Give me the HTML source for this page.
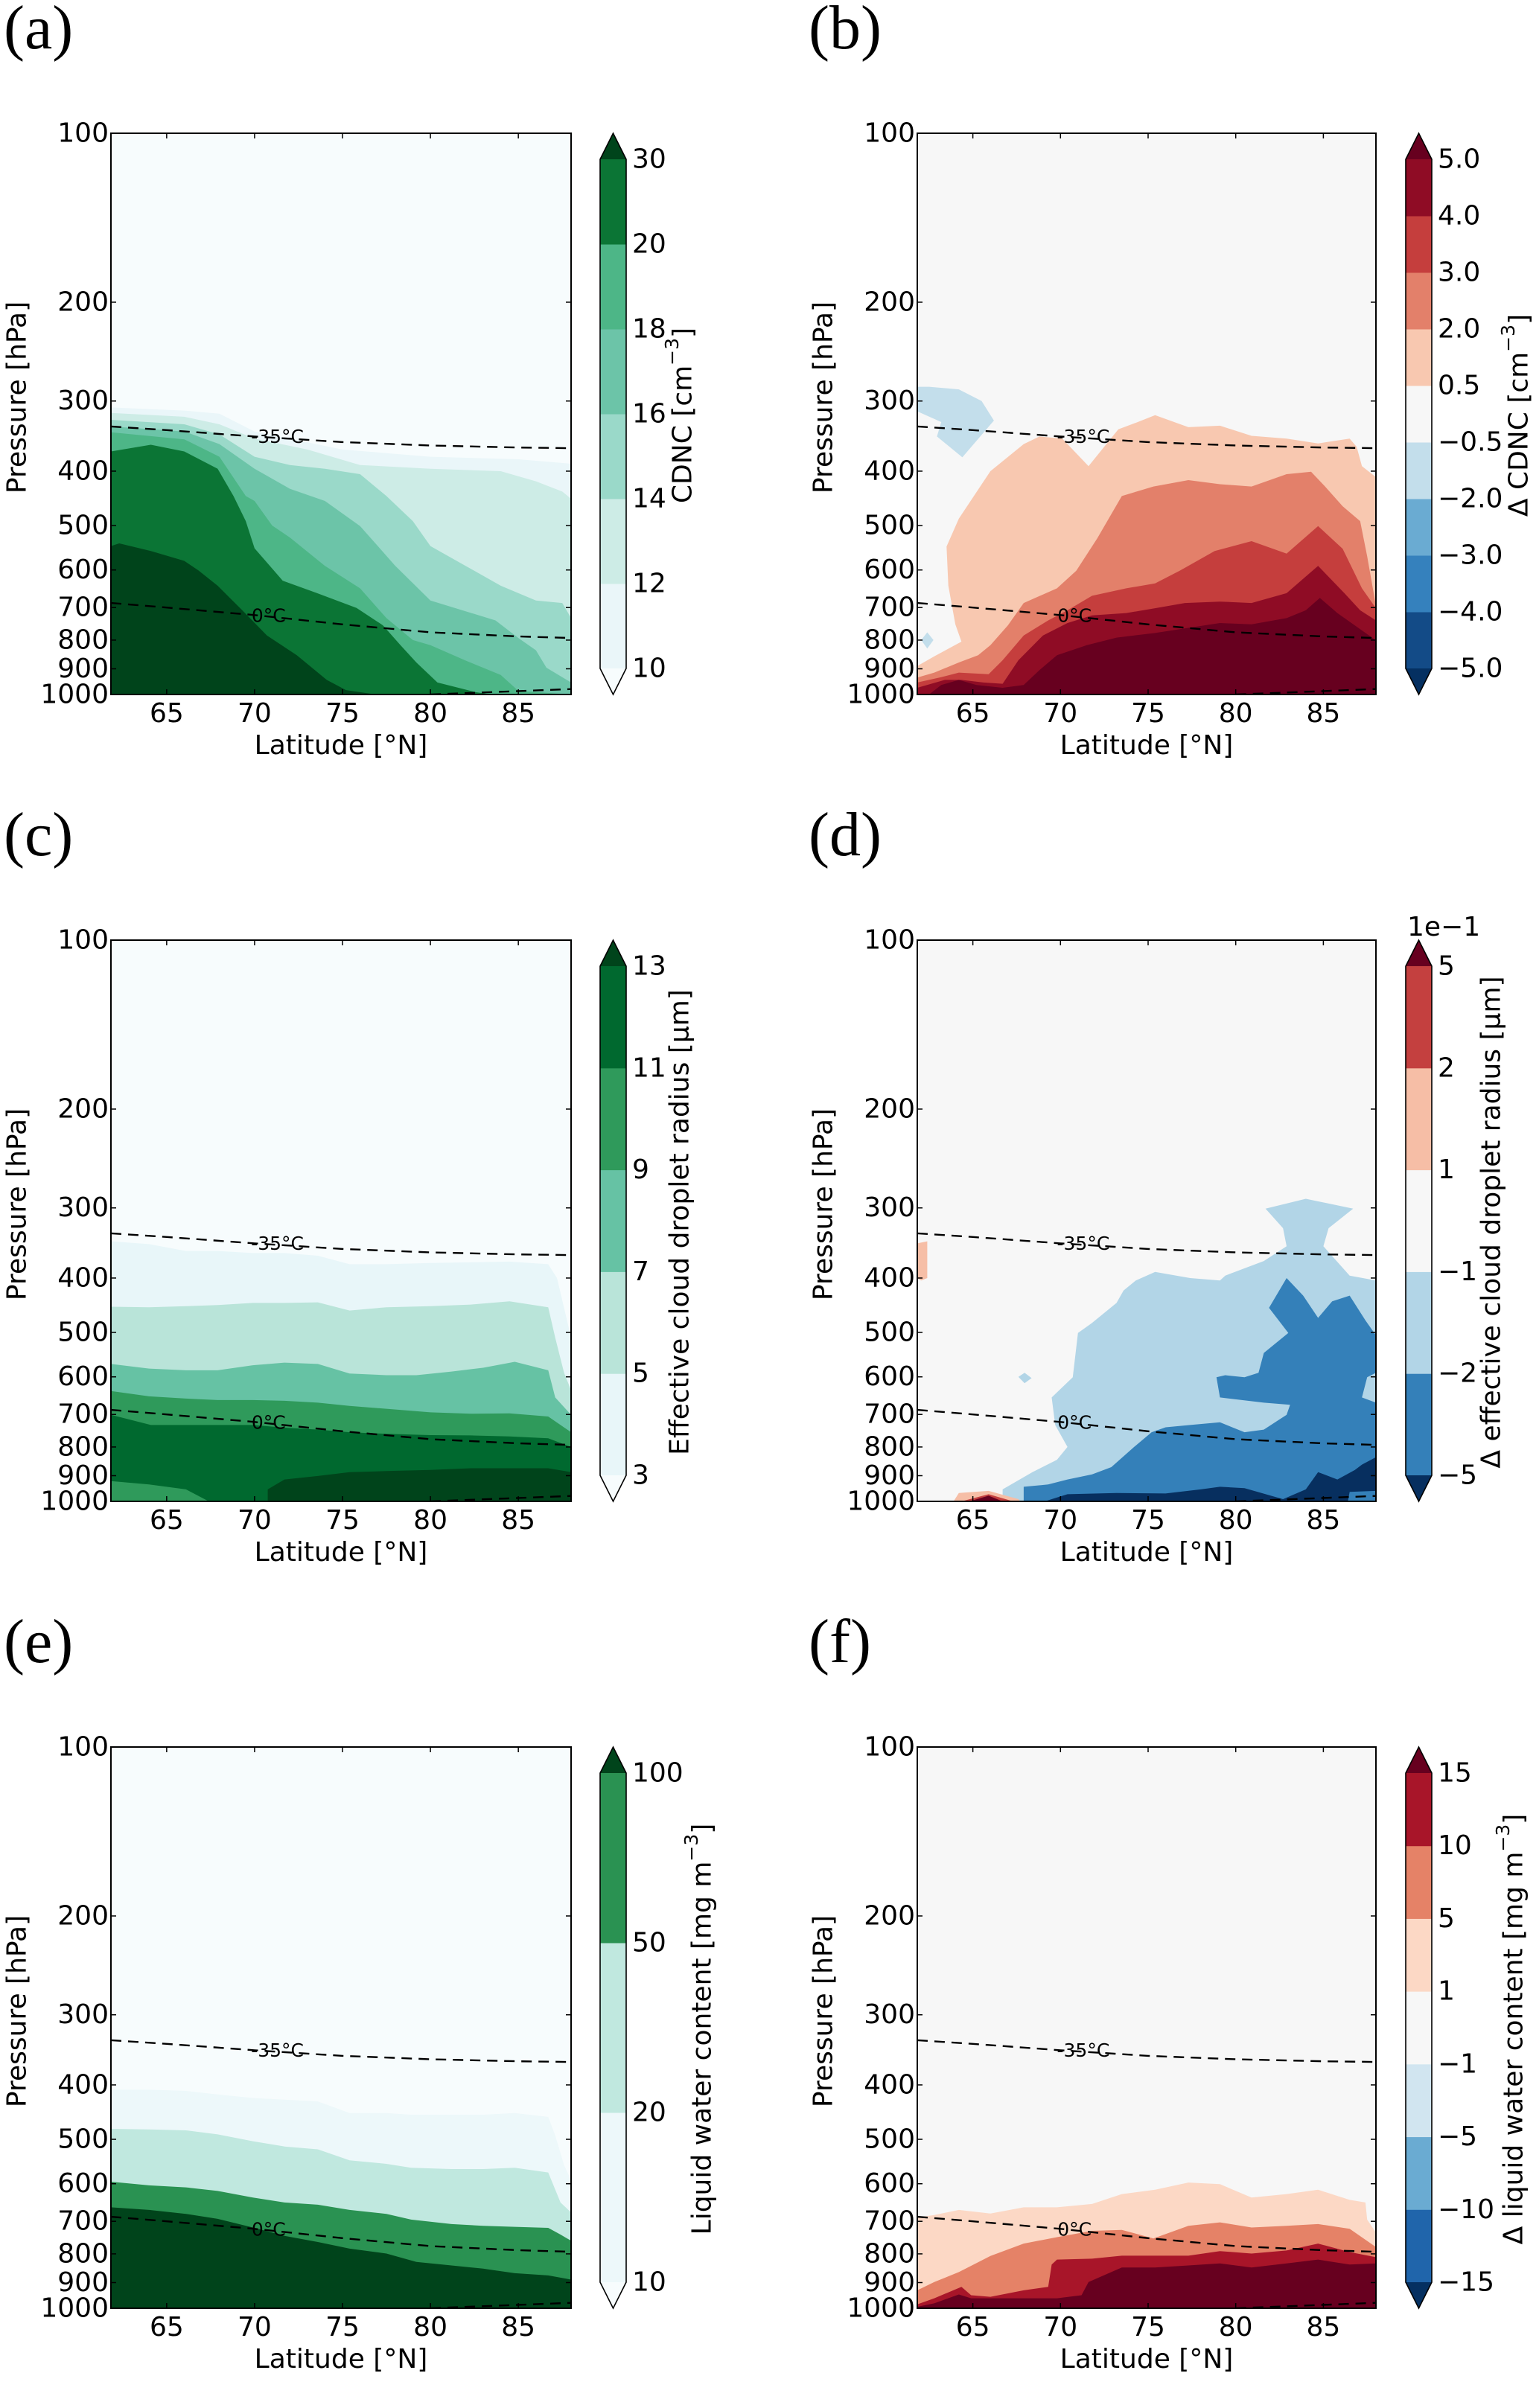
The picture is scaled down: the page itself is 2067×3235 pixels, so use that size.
<!DOCTYPE html>
<html><head><meta charset="utf-8"><title>Arctic cloud microphysics panels</title>
<style>
html,body{margin:0;padding:0;background:#fff;}
svg{display:block;}
text{font-family:"DejaVu Sans","Liberation Sans",sans-serif;fill:#000;}
.plab{font-family:"Liberation Serif","DejaVu Serif",serif;font-size:84px;}
</style></head>
<body>
<svg id="fig" xmlns="http://www.w3.org/2000/svg" width="2067" height="3235" viewBox="0 0 2067 3235"></svg>
<script>
// ---------- axis data ----------
const latTicks = [65, 70, 75, 80, 85];
const pTicks = [100, 200, 300, 400, 500, 600, 700, 800, 900, 1000];
const latMin = 61.83, latMax = 88.0;

// isotherms [lat, hPa]
const iso35 = [[61.83,333],[65,338],[70,347],[75,355],[80,360],[85,363],[88,364]];
const iso0 = [[61.83,687],[65,700],[70,722],[75,750],[80,775],[85,788],[88,793]];
const isoSfc = [[80,1000],[88,978]];

// ---------- panel (a) CDNC ----------
const aLevels = ["10","12","14","16","18","20","30"];
const aGe10 = [[61.83,308],[66,312],[68,316],[70,340],[75,366],[80,377],[85,381],[88,388]];
const aGe12 = [[61.83,315],[66,320],[68,330],[70,350],[73,366],[76,390],[80,396],[84,400],[86,417],[87.5,435],[88,448]];
const aGe14 = [[61.83,324],[66,330],[68,344],[70,377],[72,390],[74,396],[76,405],[77.5,443],[79,491],[80,544],[82,590],[84,640],[86,680],[87.5,687],[88,731]];
const aGe16 = [[61.83,333],[66,340],[68,358],[70,396],[72,430],[74,452],[76,501],[78,590],[80,680],[83.7,738],[85,793],[86,834],[86.6,896],[88,952]];
const aGe18 = [[61.83,341],[66,351],[68,377],[69.5,443],[70,452],[71,500],[72,525],[74,590],[76,647],[77.5,731],[79,800],[80,817],[82,870],[84,923],[85,985],[88,1000]];
const aGe20 = [[61.83,369],[64.1,359],[66,369],[67.9,396],[68.8,443],[69.5,491],[70,549],[71.6,627],[73.5,659],[75.8,701],[77.3,753],[78.3,817],[79.2,877],[80.4,952],[82.6,991],[83.5,1000]];
const aGe30 = [[61.83,544],[62.3,538],[64.1,555],[66,578],[66.8,601],[67.9,640],[69.3,708],[70.7,785],[72.4,851],[74.1,942],[75.2,982],[76.9,1000]];

// ---------- panel (b) delta CDNC ----------
const bLevels = ["\u22125.0","\u22124.0","\u22123.0","\u22122.0","\u22120.5","0.5","2.0","3.0","4.0","5.0"];
const bGe05 = [[61.83,890],[62.8,855],[64.35,805],[64,750],[63.6,640],[63.5,545],[64.2,486],[66,400],[67.9,358],[68.8,347],[70.1,350],[71.6,392],[73.3,337],[74.3,328],[75.4,318],[77.3,334],[79.1,332],[80.9,346],[82.9,350],[84.7,357],[86.5,350],[86.9,362],[87.2,392],[88,410]];
const bGe2 = [[61.83,933],[62.8,914],[64.2,877],[65.3,851],[66,817],[67,753],[67.9,687],[69.8,647],[70.9,602],[72.1,527],[73.5,443],[75.3,426],[77.3,415],[79.1,422],[80.9,426],[82.9,405],[84.3,401],[85.1,426],[86.1,462],[87.1,491],[87.5,567],[88,695]];
const bGe3 = [[61.83,952],[63.1,933],[64.2,914],[65.9,920],[66.7,869],[67.9,785],[69.3,738],[70.4,708],[71.8,667],[73.75,647],[75.4,634],[76.8,602],[78.8,555],[80.9,533],[82.9,561],[84.7,501],[86.1,550],[87.2,647],[88,702]];
const bGe4 = [[61.83,973],[63.4,942],[64.35,942],[65.6,952],[66.7,957],[67.6,869],[69,785],[70.4,746],[71.8,723],[73.75,716],[75.4,702],[77.1,687],[79.1,683],[80.9,687],[82.9,660],[84.7,590],[86.2,660],[87.1,708],[88,738]];
const bGe5 = [[62.5,1000],[63.2,962],[64.2,942],[65.2,962],[66.7,973],[67.9,962],[68.8,905],[69.8,851],[71.5,817],[73.2,792],[75.4,777],[77.4,760],[79.1,746],[80.9,750],[82.9,731],[84,708],[84.8,673],[85.8,716],[88,801]];
const bNegPatch = [[61.83,283],[62.5,283],[64.2,286],[65.5,300],[66.2,325],[64.4,378],[62.95,347],[63.2,327],[61.83,313]];
const bNegDot = [[62.05,800],[62.4,775],[62.75,800],[62.4,828]];

// ---------- panel (c) effective radius ----------
const cLevels = ["3","5","7","9","11","13"];
const cGe3 = [[61.83,344],[64,348],[66.1,358],[67.9,358],[69.9,361],[71.7,361],[73.6,365],[75.4,378],[77.5,378],[80,376],[82.3,375],[84.5,374],[86.7,378],[87.2,400],[87.6,452],[88,511]];
const cGe5 = [[61.83,450],[64,451],[66.1,449],[67.9,447],[69.9,443],[71.7,443],[73.6,442],[75.4,457],[77.5,451],[80,449],[82.3,446],[84.5,440],[86.7,451],[87.1,511],[87.6,590],[88,634]];
const cGe7 = [[61.83,569],[64,580],[66.1,584],[67.9,584],[69.9,572],[71.7,566],[73.6,569],[75.4,592],[77.5,596],[79.2,596],[81.2,587],[83,578],[84.8,564],[86.7,584],[87.1,653],[88,701]];
const cGe9 = [[61.83,636],[64,650],[66.1,656],[67.9,660],[69.9,660],[71.7,662],[73.6,667],[75.4,676],[77.5,684],[80,694],[82.3,698],[84.5,697],[86.7,706],[88,753]];
const cGe11 = [[61.83,701],[64.1,731],[66.1,731],[67.9,731],[69.9,731],[71.7,739],[73.6,745],[75.4,753],[77.5,758],[80,762],[82.3,763],[84.5,766],[86.7,772],[88,800]];
const cGe13 = [[70.75,952],[71.7,914],[73.6,901],[75.4,887],[77.5,883],[80,879],[82.3,873],[84.5,873],[86.7,873],[88,887]];
const cPatch9 = [[61.83,920],[64,933],[66.1,952],[67.4,1000],[61.83,1000]];

// ---------- panel (d) delta effective radius ----------
const dLevels = ["\u22125","\u22122","\u22121","1","2","5"];
const dLe1 = [[66.7,952],[68.4,887],[69.8,843],[70.4,800],[69.7,731],[69.5,653],[70.7,601],[71,501],[71.8,481],[73.2,443],[73.6,421],[74.3,404],[75.4,390],[77.4,400],[79.1,404],[79.4,396],[81.6,373],[82.9,351],[82.7,326],[81.7,301],[84,289],[86.7,301],[85.3,326],[85,351],[86.5,396],[88,404],[88,1000],[66.7,1000]];
const dLe2 = [[67.9,942],[69.3,933],[70.4,914],[71.8,895],[72.9,869],[74.2,800],[75.2,753],[76,738],[77.4,731],[79.1,723],[80.5,753],[81.6,745],[82.9,701],[83.1,673],[81.6,667],[79.1,653],[78.9,601],[79.4,596],[80.5,601],[81.3,590],[81.6,544],[83,501],[81.9,452],[82.9,400],[83.85,430],[84.7,471],[85.5,440],[86.5,430],[87.4,476],[88,506],[88,590],[87.5,601],[87.2,653],[88,667],[88,1000],[67.9,1000]];
const dLe5 = [[69.1,1000],[70.4,971],[73.2,966],[76,968],[78,952],[79.1,942],[80.5,947],[82.7,991],[84,952],[84.7,887],[85.8,914],[86.8,879],[87.2,860],[88,834],[88,958],[86.5,962],[86.4,1000]];
const dLe1Blob = [[67.6,600],[67.95,590],[68.35,603],[67.95,616]];
const dGe1Left = [[61.83,347],[62.4,344],[62.4,400],[62.05,404],[61.83,400]];
const dGe1Bot = [[63.9,1000],[64.2,966],[65.9,958],[67.6,991],[67.7,1000]];
const dGe2Bot = [[64.35,1000],[65.9,971],[67.3,1000]];
const dGe5Bot = [[64.8,1000],[65.9,977],[66.7,1000]];

// ---------- panel (e) liquid water content ----------
const eLevels = ["10","20","50","100"];
const eGe10 = [[61.83,408],[64,408],[66.1,410],[67.9,416],[69.9,422],[71.7,425],[73.6,428],[75.4,449],[77.5,449],[78.9,452],[81.2,452],[83,452],[84.8,449],[86.7,456],[87.1,492],[87.6,556],[88,591]];
const eGe20 = [[61.83,479],[64,480],[66.1,482],[67.9,490],[69.9,504],[71.7,515],[73.6,521],[75.4,545],[77.5,553],[78.9,562],[81.2,565],[83,565],[84.8,562],[86.7,573],[87.4,648],[88,675]];
const eGe50 = [[61.83,595],[64,604],[66.1,609],[67.9,618],[69.9,635],[71.7,648],[73.6,654],[75.4,668],[77.5,679],[78.9,695],[81.2,708],[83,713],[84.8,716],[86.7,719],[87.4,739],[88,758]];
const eGe100 = [[61.83,661],[64,668],[66.1,679],[67.9,693],[69.9,718],[71.7,743],[73.6,762],[75.4,783],[77.5,799],[79.2,827],[81.2,839],[83,850],[84.8,866],[86.7,874],[88,889]];

// ---------- panel (f) delta liquid water content ----------
const fLevels = ["\u221215","\u221210","\u22125","\u22121","1","5","10","15"];
const fGe1 = [[61.83,689],[62.8,682],[64.2,668],[66,678],[67.9,661],[69.8,661],[71.8,652],[73.5,626],[75.4,615],[77.3,597],[79.1,601],[80.9,635],[82.9,626],[84.7,615],[86.5,641],[87.4,648],[87.5,695],[88,733]];
const fGe5 = [[61.83,929],[62.8,898],[64.2,862],[66,807],[67.9,767],[69.8,747],[71.8,728],[73.5,725],[75.3,751],[77.3,713],[79.1,703],[80.9,718],[82.9,713],[84.7,708],[86.5,722],[88,778]];
const fGe10 = [[61.83,984],[62.8,960],[64.35,916],[64.9,948],[66,954],[67.9,929],[69.3,916],[69.5,836],[69.8,819],[71.8,816],[73.5,806],[75.4,806],[77.3,806],[79.1,791],[80.9,799],[82.9,789],[84.7,767],[86.5,794],[88,811]];
const fGe15 = [[61.83,994],[62.8,980],[64.2,945],[64.9,960],[66,960],[67.9,960],[69.8,960],[71.2,948],[71.6,898],[73.5,846],[75.4,846],[77.3,839],[79.1,832],[80.9,846],[82.9,832],[84.7,819],[86.5,836],[88,832]];

// ---------- geometry (layout, not data) ----------
const colX = [149, 1232], plotW = [618, 616];
const rowY = [179, 1263, 2347], plotH = 754;
const cbX = [806, 1888], cbW = 35, cbInset = 35;
const FS = 36;

const NS = "http://www.w3.org/2000/svg";
const svg = document.getElementById("fig");
function mk(tag, attrs, parent) {
  const e = document.createElementNS(NS, tag);
  for (const k in attrs) e.setAttribute(k, attrs[k]);
  (parent || svg).appendChild(e);
  return e;
}

function drawPanel(o) {
  const L = colX[o.col], W = plotW[o.col], T = rowY[o.row], H = plotH;
  const X = lat => L + (lat - latMin) / (latMax - latMin) * W;
  const Y = p => T + Math.log10(p / 100) * H;
  const g = mk("g", {});
  
  

  const lab = mk("text", {x: o.col ? 1086 : 5, y: T - 114, class: "plab"}, g);
  lab.textContent = "(" + o.id + ")";
  
  

  const cp = mk("clipPath", {id: "clip" + o.id}, g);
  mk("rect", {x: L, y: T, width: W, height: H}, cp);
  const plot = mk("g", {"clip-path": "url(#clip" + o.id + ")"}, g);
  
  
  const bg = mk("rect", {x: L, y: T, width: W, height: H, fill: o.bg}, plot);
  
  

  o.fills.forEach((b, i) => {
    const pts = b.map(q => [X(q[0]), Y(q[1])]);
    if (!o.closed[i]) {
      pts.push([X(b[b.length - 1][0]), Y(1000) + 2]);
      pts.push([X(b[0][0]), Y(1000) + 2]);
    }
    const poly = mk("polygon", {points: pts.map(q => q[0].toFixed(1) + "," + q[1].toFixed(1)).join(" "), fill: o.colors[i]}, plot);
    
    
  });

  const isoLines = [iso35, iso0, isoSfc];
  isoLines.forEach((ln, i) => {
    const d = ln.map((q, j) => (j ? "L" : "M") + X(q[0]).toFixed(1) + "," + Y(q[1]).toFixed(1)).join(" ");
    const path = mk("path", {d: d, fill: "none", stroke: "#000", "stroke-width": 2.4, "stroke-dasharray": "14 9"}, plot);
    
    
  });
  const t1 = mk("text", {x: X(71.3), y: Y(347), "font-size": 25, "text-anchor": "middle", "dominant-baseline": "central"}, plot);
  t1.textContent = "-35\u00B0C";
  
  
  const t2 = mk("text", {x: X(70.8), y: Y(724), "font-size": 25, "text-anchor": "middle", "dominant-baseline": "central"}, plot);
  t2.textContent = "0\u00B0C";
  
  

  const frame = mk("rect", {x: L, y: T, width: W, height: H, fill: "none", stroke: "#000", "stroke-width": 2}, g);
  
  

  pTicks.forEach(p => {
    const y = Y(p);
    mk("line", {x1: L, x2: L + 7, y1: y, y2: y, stroke: "#000", "stroke-width": 1.5}, g);
    mk("line", {x1: L + W - 7, x2: L + W, y1: y, y2: y, stroke: "#000", "stroke-width": 1.5}, g);
    const t = mk("text", {x: L - 3, y: y, "font-size": FS, "text-anchor": "end", "dominant-baseline": "central"}, g);
    t.textContent = String(p);
    
    
  });
  latTicks.forEach(l => {
    const x = X(l);
    mk("line", {x1: x, x2: x, y1: T, y2: T + 7, stroke: "#000", "stroke-width": 1.5}, g);
    mk("line", {x1: x, x2: x, y1: T + H - 7, y2: T + H, stroke: "#000", "stroke-width": 1.5}, g);
    const t = mk("text", {x: x, y: T + H + 37, "font-size": FS, "text-anchor": "middle"}, g);
    t.textContent = String(l);
    
    
  });
  const xl = mk("text", {x: L + W / 2, y: T + H + 80, "font-size": FS, "text-anchor": "middle"}, g);
  xl.textContent = "Latitude [\u00B0N]";
  
  
  const yx = L - 126, yy = T + 355;
  const yl = mk("text", {x: yx, y: yy, "font-size": FS, "text-anchor": "middle", "dominant-baseline": "central", transform: "rotate(-90 " + yx + " " + yy + ")"}, g);
  yl.textContent = "Pressure [hPa]";
  
  

  // colorbar
  const cx = cbX[o.col], ct = T + cbInset, cb = T + H - cbInset;
  const n = o.cbLabels.length - 1, seg = (cb - ct) / n;
  const cbg = mk("g", {}, g);
  
  
  o.cbColors.forEach((c, i) => {
    const r = mk("rect", {x: cx, y: cb - (i + 1) * seg - 0.5, width: cbW, height: seg + 1, fill: c}, cbg);
    
    
  });
  const up = mk("polygon", {points: cx + "," + ct + " " + (cx + cbW / 2) + "," + T + " " + (cx + cbW) + "," + ct, fill: o.over}, cbg);
  
  
  const dn = mk("polygon", {points: cx + "," + cb + " " + (cx + cbW / 2) + "," + (T + H) + " " + (cx + cbW) + "," + cb, fill: o.under}, cbg);
  
  
  mk("path", {d: "M" + cx + "," + ct + " L" + (cx + cbW / 2) + "," + T + " L" + (cx + cbW) + "," + ct + " L" + (cx + cbW) + "," + cb + " L" + (cx + cbW / 2) + "," + (T + H) + " L" + cx + "," + cb + " Z", fill: "none", stroke: "#000", "stroke-width": 1.6}, cbg);
  o.cbLabels.forEach((s, i) => {
    const t = mk("text", {x: cx + cbW + 8, y: cb - i * seg, "font-size": FS, "dominant-baseline": "central"}, cbg);
    t.textContent = s;
    
    
  });
  const ty = T + H / 2 + 2;
  const ct2 = mk("text", {x: o.cbTitleX, y: ty, "font-size": FS, "text-anchor": "middle", "dominant-baseline": "central", transform: "rotate(-90 " + o.cbTitleX + " " + ty + ")"}, cbg);
  ct2.textContent = o.cbTitle;
  if (o.cbSup) {
    const sp = mk("tspan", {"baseline-shift": "super", "font-size": 25}, ct2);
    sp.textContent = o.cbSup;
    const tail = mk("tspan", {}, ct2);
    tail.textContent = "]";
  }
  
  
  if (o.offset) {
    const ot = mk("text", {x: cx + 2, y: T - 6, "font-size": FS}, cbg);
    ot.textContent = o.offset;
    
    
  }
}

drawPanel({id: "a", col: 0, row: 0, bg: "#f7fcfd",
  fills: [aGe10, aGe12, aGe14, aGe16, aGe18, aGe20, aGe30],
  closed: [false, false, false, false, false, false, false],
  colors: ["#eaf6f9", "#cdece6", "#9ad9c9", "#6cc4a8", "#4db687", "#0b7535", "#00441b"],
  cbLabels: aLevels, cbColors: ["#eaf6f9", "#cdece6", "#9ad9c9", "#6cc4a8", "#4db687", "#0b7535"],
  under: "#f7fcfd", over: "#00441b", cbTitle: "CDNC [cm", cbSup: "\u22123", cbTitleX: 917});

drawPanel({id: "b", col: 1, row: 0, bg: "#f7f7f7",
  fills: [bGe05, bGe2, bGe3, bGe4, bGe5, bNegPatch, bNegDot],
  closed: [false, false, false, false, false, true, true],
  colors: ["#f8c8b0", "#e3806a", "#c53e3d", "#8f0c25", "#67001f", "#c3deeb", "#c3deeb"],
  cbLabels: bLevels, cbColors: ["#134b87", "#3581bd", "#6aabd2", "#c3deeb", "#f7f7f7", "#f8c8b0", "#e3806a", "#c53e3d", "#8f0c25"],
  under: "#053061", over: "#67001f", cbTitle: "\u0394 CDNC [cm", cbSup: "\u22123", cbTitleX: 2040});

drawPanel({id: "c", col: 0, row: 1, bg: "#f7fcfd",
  fills: [cGe3, cGe5, cGe7, cGe9, cGe11, cPatch9, cGe13],
  closed: [false, false, false, false, false, true, false],
  colors: ["#e8f6f9", "#b9e4d9", "#66c2a4", "#2f9a5b", "#00692f", "#2f9a5b", "#00441b"],
  cbLabels: cLevels, cbColors: ["#e8f6f9", "#b9e4d9", "#66c2a4", "#2f9a5b", "#00692f"],
  under: "#f7fcfd", over: "#00441b", cbTitle: "Effective cloud droplet radius [\u03BCm]", cbTitleX: 913});

drawPanel({id: "d", col: 1, row: 1, bg: "#f7f7f7",
  fills: [dLe1, dLe1Blob, dLe2, dLe5, dGe1Left, dGe1Bot, dGe2Bot, dGe5Bot],
  closed: [true, true, true, true, true, true, true, true],
  colors: ["#b2d5e7", "#b2d5e7", "#3480b9", "#072f5f", "#f6bea6", "#f6bea6", "#c4403f", "#67001f"],
  cbLabels: dLevels, cbColors: ["#3480b9", "#b2d5e7", "#f7f7f7", "#f6bea6", "#c4403f"],
  under: "#072f5f", over: "#67001f", cbTitle: "\u0394 effective cloud droplet radius [\u03BCm]", cbTitleX: 2003, offset: "1e\u22121"});

drawPanel({id: "e", col: 0, row: 2, bg: "#f7fcfd",
  fills: [eGe10, eGe20, eGe50, eGe100],
  closed: [false, false, false, false],
  colors: ["#edf8fa", "#c0e8df", "#2a9252", "#00441b"],
  cbLabels: eLevels, cbColors: ["#edf8fa", "#c0e8df", "#2a9252"],
  under: "#f7fcfd", over: "#00441b", cbTitle: "Liquid water content [mg m", cbSup: "\u22123", cbTitleX: 943});

drawPanel({id: "f", col: 1, row: 2, bg: "#f7f7f7",
  fills: [fGe1, fGe5, fGe10, fGe15],
  closed: [false, false, false, false],
  colors: ["#fcd8c5", "#e58267", "#a81529", "#67001f"],
  cbLabels: fLevels, cbColors: ["#2065ab", "#6aabd2", "#d1e5f0", "#f7f7f7", "#fcd8c5", "#e58267", "#a81529"],
  under: "#053061", over: "#67001f", cbTitle: "\u0394 liquid water content [mg m", cbSup: "\u22123", cbTitleX: 2033});
</script>
</body></html>
